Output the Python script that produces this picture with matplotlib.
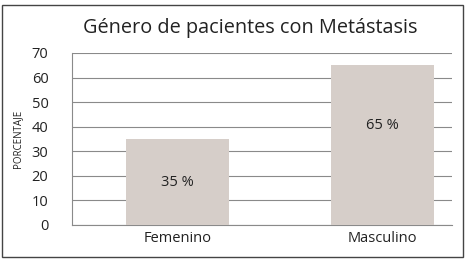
import matplotlib.pyplot as plt
from matplotlib.patches import Rectangle

# data
categorias = ['Femenino', 'Masculino']
porcentajes = [35, 65]
etiquetas = ['35 %', '65 %']
yticks = [0, 10, 20, 30, 40, 50, 60, 70]

plt.rcParams['font.family'] = ['Open Sans', 'DejaVu Sans']

fig = plt.figure(figsize=(4.67, 2.61), dpi=100)
ax = fig.add_axes([72 / 467, 1 - 225 / 261, 380 / 467, 172 / 261])

# outer frame
fig.patches.append(Rectangle((2 / 467, 4 / 261), 461 / 467, 252 / 261,
                             transform=fig.transFigure, fill=False,
                             edgecolor='#444444', linewidth=1))

x = range(len(categorias))
bars = ax.bar(x, porcentajes, width=0.5, color='#d6cec9', zorder=3)
# label heights as placed in the original (second one sits higher)
pos_y = [17.5, 40.5]
for b, lab, yy in zip(bars, etiquetas, pos_y):
    ax.text(b.get_x() + b.get_width() / 2, yy, lab,
            ha='center', va='center', fontsize=10.5, color='#222222', zorder=4)

ax.set_xlim(-0.515, 1.34)
ax.set_ylim(0, 70)
ax.set_yticks(yticks)
ax.set_xticks(list(x))
ax.set_xticklabels(categorias)
ax.yaxis.grid(True, color='#8a8a8a', linewidth=0.8, zorder=0)
ax.tick_params(axis='both', length=0, labelsize=10.5, colors='#222222')
ax.tick_params(axis='y', pad=17)
ax.tick_params(axis='x', pad=4)
for s in ['top', 'right']:
    ax.spines[s].set_visible(False)
ax.spines['left'].set_color('#8a8a8a')
ax.spines['bottom'].set_color('#8a8a8a')
ax.spines['left'].set_linewidth(0.8)
ax.spines['bottom'].set_linewidth(0.8)

ax.set_ylabel('PORCENTAJE', fontsize=7, color='#222222', labelpad=6)
fig.text(0.535, 1 - 28 / 261, 'Género de pacientes con Metástasis',
         ha='center', va='center', fontsize=14.3, color='#222222')

fig.savefig('out.png', dpi=100, facecolor='white')
